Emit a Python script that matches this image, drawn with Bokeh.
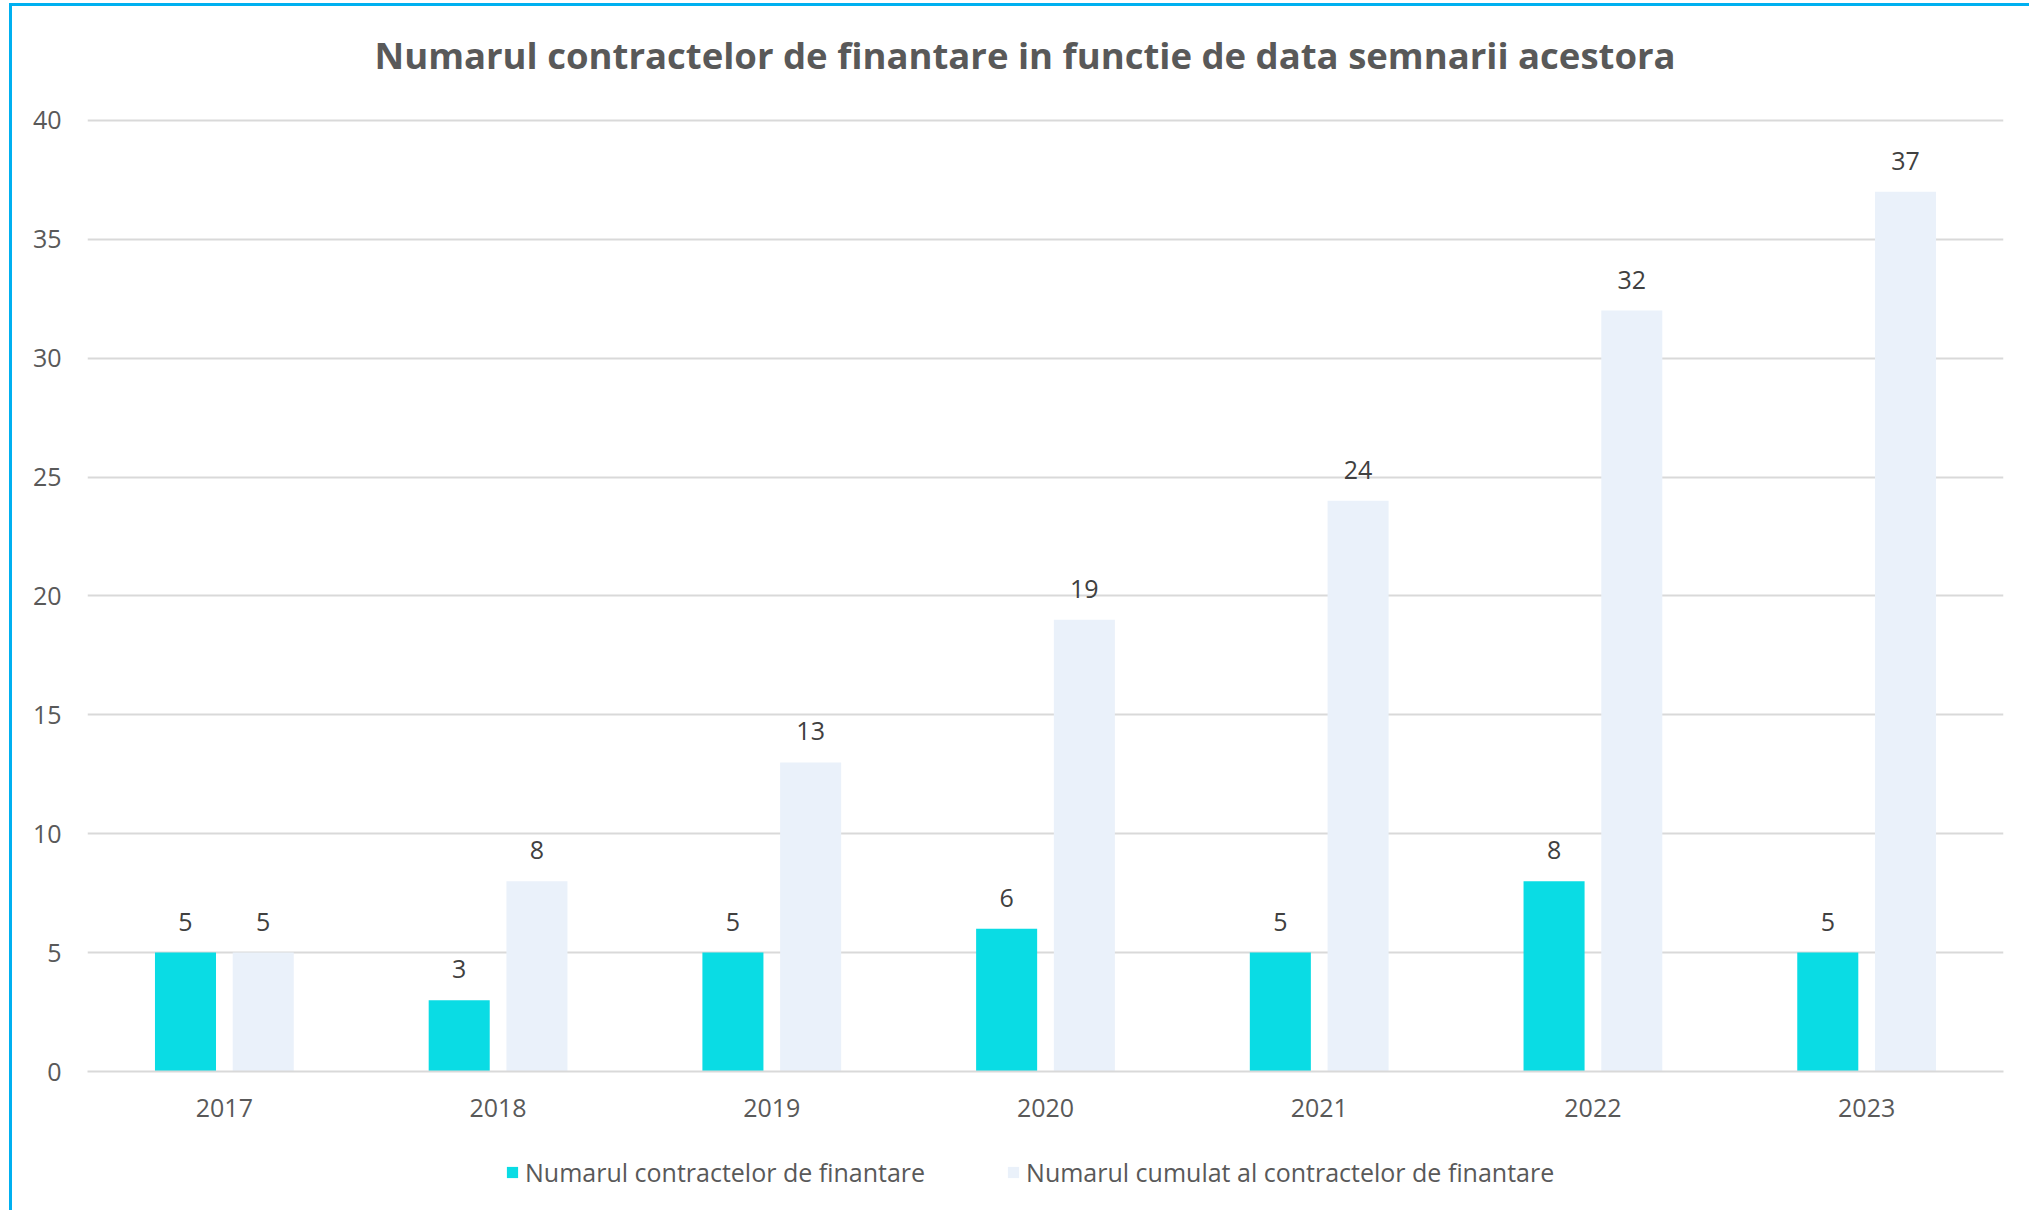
from bokeh.plotting import figure
from bokeh.layouts import column
from bokeh.models import FactorRange, Range1d, FixedTicker, Legend, LegendItem, ColumnDataSource
from bokeh.transform import dodge
from bokeh.core.properties import value
from bokeh.embed import file_html
from bokeh.resources import INLINE

# ---- data ----
years = ["2017", "2018", "2019", "2020", "2021", "2022", "2023"]
annual = [5, 3, 5, 6, 5, 8, 5]
cumulative = [5, 8, 13, 19, 24, 32, 37]
y_ticks = [0, 5, 10, 15, 20, 25, 30, 35, 40]
title_text = "Numarul contractelor de finantare in functie de data semnarii acestora"
series_names = ["Numarul contractelor de finantare", "Numarul cumulat al contractelor de finantare"]

CYAN = "#0ADCE4"
LIGHT = "#EAF1FA"
GRID = "#D9D9D9"
TXT = "#595959"
FONT = "Open Sans"
W = 2017

src = ColumnDataSource(data=dict(
    year=years,
    annual=annual,
    cumulative=cumulative,
    annual_lbl=[str(v) for v in annual],
    cumulative_lbl=[str(v) for v in cumulative],
))

# ---- title band ----
t = figure(width=W, height=73, output_backend="svg", toolbar_location=None,
           x_axis_type=None, y_axis_type=None, title_location="below",
           min_border_left=75, min_border_right=26, min_border_top=0, min_border_bottom=0)
t.outline_line_color = None
t.grid.visible = False
t.title.text = title_text
t.title.align = "left"
t.title.offset = 287
t.title.text_font = FONT
t.title.text_font_size = "36.5px"
t.title.text_font_style = "bold"
t.title.text_color = TXT
t.title.standoff = 0

# ---- main plot ----
p = figure(
    x_range=FactorRange(factors=years, range_padding=0),
    y_range=Range1d(0, 40.08),
    width=W, height=1062,
    output_backend="svg", toolbar_location=None,
    min_border_left=75, min_border_right=26, min_border_top=39, min_border_bottom=70,
)
p.outline_line_color = None
p.background_fill_color = "white"
p.border_fill_color = "white"

off = 0.142
bw = 0.223
r1 = p.vbar(x=dodge("year", -off, range=p.x_range), top="annual", width=bw, source=src,
            fill_color=CYAN, line_color=None)
r2 = p.vbar(x=dodge("year", off, range=p.x_range), top="cumulative", width=bw, source=src,
            fill_color=LIGHT, line_color=None)

p.text(x=dodge("year", -off, range=p.x_range), y="annual", text="annual_lbl", source=src,
       text_align="center", text_baseline="middle", y_offset=-31,
       text_font=value(FONT), text_font_size="25px", text_color="#404040")
p.text(x=dodge("year", off, range=p.x_range), y="cumulative", text="cumulative_lbl", source=src,
       text_align="center", text_baseline="middle", y_offset=-31,
       text_font=value(FONT), text_font_size="25px", text_color="#404040")

for ax in (p.xaxis, p.yaxis):
    ax.major_tick_line_color = None
    ax.minor_tick_line_color = None
    ax.major_tick_out = 0
    ax.major_tick_in = 0
    ax.minor_tick_out = 0
    ax.minor_tick_in = 0
    ax.major_label_text_font = FONT
    ax.major_label_text_font_size = "25px"
    ax.major_label_text_color = TXT

p.yaxis.ticker = FixedTicker(ticks=y_ticks)
p.yaxis.axis_line_color = None
p.yaxis.major_label_standoff = 26

p.xaxis.axis_line_color = GRID
p.xaxis.axis_line_width = 2
p.xaxis.major_label_standoff = 27

p.xgrid.grid_line_color = None
p.ygrid.ticker = FixedTicker(ticks=y_ticks)
p.ygrid.grid_line_color = GRID
p.ygrid.grid_line_width = 2

# ---- legend band ----
q = figure(width=W, height=69, output_backend="svg", toolbar_location=None,
           x_axis_type=None, y_axis_type=None,
           x_range=Range1d(0, 1), y_range=Range1d(0, 1),
           min_border_left=75, min_border_right=26, min_border_top=0, min_border_bottom=0)
q.outline_line_color = None
q.grid.visible = False
# invisible swatch renderers (zero-size) used only for the legend keys
k1 = q.vbar(x=[0], top=[0], width=0, fill_color=CYAN, line_color=None)
k2 = q.vbar(x=[0], top=[0], width=0, fill_color=LIGHT, line_color=None)

legend = Legend(items=[LegendItem(label=series_names[0], renderers=[k1]),
                       LegendItem(label=series_names[1], renderers=[k2])],
                orientation="horizontal", location=(418, 21))
legend.label_text_font = FONT
legend.label_text_font_size = "25px"
legend.label_text_color = TXT
legend.glyph_width = 14
legend.glyph_height = 14
legend.label_standoff = 6
legend.spacing = 81
legend.border_line_color = None
legend.background_fill_alpha = 0
legend.padding = 0
legend.margin = 0
q.add_layout(legend)

layout = column(t, p, q, spacing=0)
layout.styles = {"margin-top": "3px", "margin-left": "9px",
                 "border-top": "3px solid #00B0F0", "border-left": "3px solid #00B0F0"}

open("out.html", "w").write(file_html(layout, INLINE))
